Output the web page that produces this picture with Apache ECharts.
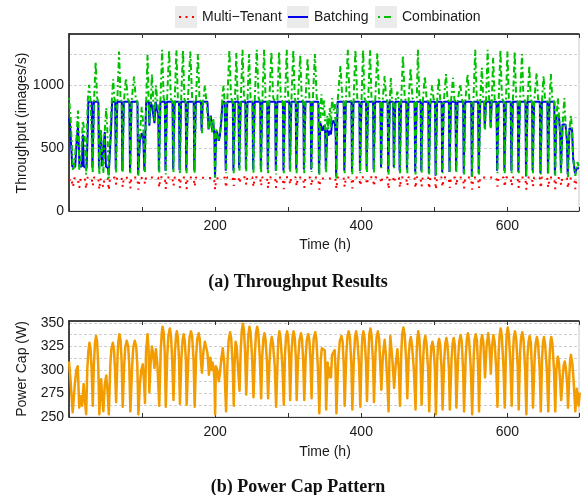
<!DOCTYPE html>
<html><head><meta charset="utf-8">
<script src="https://cdn.jsdelivr.net/npm/echarts@6/dist/echarts.min.js"></script>
<style>html,body{margin:0;padding:0;background:#fff}#c{width:582px;height:495px}</style>
</head><body><div id="c"></div>
<script>
// ---- tick labels ----
const xTickLabels = [200, 400, 600];
const throughputTickLabels = [0, 500, 1000];
const powerTickLabels = [250, 275, 300, 325, 350];

// ---- series (hour, value) ----
const multiTenant = [[0,240],[3,262],[5.5,190],[7,260],[12,262],[14,185],[16,258],[21.5,262],[23.5,175],[25,265],[31,265],[32.5,200],[34,266],[40,266],[41.5,170],[43,258],[45.5,260],[47,190],[48.5,258],[53,262],[54.5,165],[56,262],[63,266],[64.5,210],[66,268],[72,266],[73.5,190],[75,266],[82.5,265],[84,180],[85.5,268],[93.5,266],[95,170],[96.5,262],[102.5,264],[104,215],[105.5,268],[122,266],[123.5,185],[125,268],[131,268],[132.5,175],[134,266],[141.5,268],[143,200],[144.5,266],[150.3,268],[151.8,185],[153.3,268],[159.5,266],[161,175],[162.5,268],[170.5,266],[172,195],[173.5,266],[198.5,262],[200,170],[201.5,258],[213.5,266],[215,185],[216.5,268],[224,266],[225.5,200],[227,268],[232,266],[233.4,220],[235,268],[241,268],[242.6,210],[244,268],[251,268],[252.5,190],[254,268],[261.5,268],[263,200],[264.5,268],[271,266],[272.5,180],[274,268],[282,266],[283.5,185],[285,268],[292.5,266],[294,175],[295.5,268],[301.2,268],[302.7,210],[304.2,268],[310.1,268],[311.6,195],[313.1,268],[320.5,266],[322,185],[323.5,268],[330.5,266],[332,200],[333.5,268],[341,266],[342.6,170],[344,258],[364.5,260],[366,175],[367.5,266],[375.8,268],[377.3,190],[378.8,268],[386.3,266],[387.8,180],[389.3,268],[397.2,266],[398.7,200],[400.2,268],[406.3,268],[407.8,210],[409.3,268],[415.9,268],[417.4,195],[418.9,268],[426,266],[427.5,220],[429,268],[435.9,266],[437.4,175],[438.9,266],[443.5,266],[445,225],[446.5,268],[451.5,266],[453,185],[454.5,268],[461.5,266],[463,200],[464.5,268],[472.8,266],[474.3,180],[475.8,268],[481.1,268],[482.6,195],[484.1,268],[491.5,266],[493,175],[494.5,268],[500.7,266],[502.2,170],[503.7,266],[509.8,268],[511.3,190],[512.8,268],[519.7,266],[521.2,185],[522.7,268],[528.7,266],[530.2,200],[531.7,268],[539.2,266],[540.7,180],[542.2,268],[550.3,266],[551.8,170],[553.3,266],[559.7,268],[561.2,185],[562.7,268],[584.9,266],[586.4,195],[587.9,268],[594.9,266],[596.4,190],[597.9,268],[604.4,266],[605.9,200],[607.4,268],[614,266],[615.5,185],[617,268],[624.5,266],[626,170],[627.5,266],[633.5,268],[635,195],[636.5,268],[644.2,266],[645.7,180],[647.2,268],[654.5,266],[656,185],[657.5,268],[664,266],[665.5,175],[667,262],[672,262],[673.6,205],[675,260],[681.5,262],[683,180],[684.5,258],[691.5,260],[693,175],[694.5,250],[698,245]];

const batching = [[0,740],[1.5,680],[4.5,352],[8.5,352],[10.5,560],[12.3,675],[13.5,500],[14.3,355],[17.5,355],[19,610],[20.2,355],[24,340],[25.5,600],[26.5,870],[31.2,870],[32,345],[33.4,345],[34.2,870],[40.2,870],[41,340],[42.2,340],[43.6,640],[45.5,355],[47.5,355],[49,630],[50.5,355],[53.5,340],[54.3,285],[55.3,300],[57.5,640],[59,870],[63.2,870],[64,330],[65.3,330],[66.1,870],[72.2,870],[73,320],[74.3,320],[75.1,870],[82.7,870],[83.5,310],[84.8,310],[85.6,870],[93.7,870],[94.5,290],[95.8,290],[97,560],[99.5,620],[101.5,600],[103.2,320],[104.8,320],[105.6,870],[109,870],[110,680],[111.5,870],[113.5,840],[115.5,760],[117,700],[118.5,870],[120.5,870],[122.2,760],[123,320],[124.3,320],[125.1,870],[131.2,870],[132,320],[133.3,320],[134.1,870],[141.7,870],[142.5,330],[143.8,330],[144.6,870],[150.5,870],[151.3,325],[152.6,325],[153.4,870],[159.7,870],[160.5,320],[161.8,320],[162.6,870],[170.7,870],[171.5,320],[172.8,320],[173.6,870],[180.5,870],[181.5,640],[183,870],[189.5,870],[191,650],[192.5,710],[194,760],[196,640],[197.5,700],[199,600],[199.8,270],[200.8,270],[201.5,640],[203,620],[205,560],[206.5,600],[208.5,720],[210,870],[213,870],[214.5,320],[215.8,320],[216.6,870],[224.2,870],[225,320],[226.3,320],[227.1,870],[232,870],[232.8,340],[234.2,340],[235,870],[241.3,870],[242.1,335],[243.4,335],[244.2,870],[251.2,870],[252,330],[253.3,330],[254.1,870],[261.7,870],[262.5,330],[263.8,330],[264.6,870],[271.2,870],[272,330],[273.3,330],[274.1,870],[282.2,870],[283,320],[284.3,320],[285.1,870],[292.7,870],[293.5,320],[294.8,320],[295.6,870],[301.4,870],[302.2,330],[303.5,330],[304.3,870],[310.3,870],[311.1,330],[312.4,330],[313.2,870],[320.7,870],[321.5,330],[322.8,330],[323.6,870],[330.7,870],[331.5,330],[332.8,330],[333.6,870],[341.3,870],[342.1,300],[343.2,300],[344,700],[345.5,690],[347,640],[349,680],[350.5,640],[351.5,330],[352.5,330],[353.5,650],[355,600],[357,640],[358.5,610],[360,700],[362,720],[364,690],[365,600],[365.6,275],[366.8,275],[367.6,870],[376,870],[376.8,320],[378.1,320],[378.9,870],[386.5,870],[387.3,310],[388.6,310],[389.4,870],[397.4,870],[398.2,320],[399.5,320],[400.3,870],[406.5,870],[407.3,330],[408.6,330],[409.4,870],[416.1,870],[416.9,330],[418.2,330],[419,870],[426.2,870],[427,350],[428.3,350],[429.1,870],[436.1,870],[436.9,310],[438.2,310],[439,870],[443.7,870],[444.5,350],[445.8,350],[446.6,870],[451.7,870],[452.5,320],[453.8,320],[454.6,870],[461.7,870],[462.5,330],[463.8,330],[464.6,870],[473,870],[473.8,310],[475.1,310],[475.9,870],[481.3,870],[482.1,320],[483.4,320],[484.2,870],[491.7,870],[492.5,300],[493.8,300],[494.6,870],[500.9,870],[501.7,280],[503,280],[503.8,870],[510,870],[510.8,310],[512.1,310],[512.9,870],[519.9,870],[520.7,310],[522,310],[522.8,870],[528.9,870],[529.7,320],[531,320],[531.8,870],[539.4,870],[540.2,300],[541.5,300],[542.3,870],[550.5,870],[551.3,275],[552.6,275],[553.4,870],[559.9,870],[560.7,300],[562,300],[562.8,870],[568.3,870],[569,660],[569.9,660],[570.7,870],[576.3,870],[577,670],[577.9,670],[578.6,870],[585.1,870],[585.9,320],[587.2,320],[588,870],[595.1,870],[595.9,320],[597.2,320],[598,870],[604.6,870],[605.4,320],[606.7,320],[607.5,870],[614.2,870],[615,310],[616.3,310],[617.1,870],[624.7,870],[625.5,275],[626.8,275],[627.6,870],[633.7,870],[634.5,320],[635.8,320],[636.6,870],[644.4,870],[645.2,300],[646.5,300],[647.3,870],[654.7,870],[655.5,300],[656.8,300],[657.6,870],[664.2,870],[665,290],[666.3,290],[667.3,760],[670.5,760],[672.3,600],[673.2,320],[674.4,320],[675.5,690],[679.5,690],[681.5,560],[682.5,290],[683.8,290],[685,660],[688.5,650],[690,420],[692.5,300],[693.8,300],[695,340],[698,340]];

const combination = [[0,900],[2,760],[5.5,320],[7,350],[10,560],[12.3,800],[13,680],[14,330],[16,360],[19,720],[21,640],[23.5,290],[25.5,870],[27.5,1005],[29.5,880],[31,870],[32.5,300],[34.2,870],[36.5,1190],[38.5,900],[40,870],[41.5,290],[43.5,650],[44.5,640],[47,300],[49,640],[51,820],[52.5,640],[54.5,260],[56.5,640],[58.5,870],[60.5,1050],[62,900],[63.2,870],[64.5,300],[66.1,870],[68.5,1270],[70.5,900],[72.2,870],[73.5,310],[75.1,870],[78,1060],[80.5,890],[82.7,870],[84,300],[85.6,870],[89,1070],[91.5,890],[93.7,870],[95,280],[97,600],[99.5,830],[101.5,700],[104,310],[105.6,870],[107.5,1245],[109,880],[110,700],[112,870],[113.5,1090],[115.5,860],[117,720],[119,1000],[121,870],[122.2,800],[123.5,300],[125.1,870],[127.5,1284],[129.5,900],[131.2,870],[132.5,290],[134.1,870],[137,1280],[139.5,890],[141.7,870],[143,310],[144.6,870],[147,1280],[149,900],[150.5,870],[151.8,300],[153.4,870],[156,1280],[158,890],[159.7,870],[161,300],[162.6,870],[166,1270],[168.5,900],[170.7,870],[172,300],[173.6,870],[176.5,1250],[178.5,900],[180.5,870],[182,620],[183.5,870],[186,1000],[188,870],[189.5,880],[191.5,650],[193,760],[194.5,700],[196,620],[197.5,740],[199,600],[200,265],[201.5,650],[203,600],[205,560],[207,650],[208.5,760],[210,920],[211.5,1000],[213,870],[215,300],[216.6,870],[219.5,1284],[221.8,900],[224.2,870],[225.5,300],[227.1,870],[229,1260],[230.8,890],[232,870],[233.4,320],[235,870],[237.5,1284],[239.5,900],[241.3,870],[242.6,310],[244.2,870],[246.5,1250],[248.5,900],[251.2,870],[252.5,300],[254.1,870],[257,1284],[259.5,900],[261.7,870],[263,300],[264.6,870],[267,1284],[269,900],[271.2,870],[272.5,300],[274.1,870],[277,1270],[279.5,900],[282.2,870],[283.5,290],[285.1,870],[287.5,1270],[290,890],[292.7,870],[294,300],[295.6,870],[298,1284],[300,900],[301.4,870],[302.7,310],[304.3,870],[307,1284],[309,900],[310.3,870],[311.6,300],[313.2,870],[316.5,1240],[318.5,900],[320.7,870],[322,300],[323.6,870],[326.5,1220],[329,900],[330.7,870],[332,310],[333.6,870],[336.5,1250],[339,900],[341.3,870],[342.6,280],[344,800],[345.5,930],[347,760],[349,880],[350.5,700],[352,300],[353.5,760],[355,650],[357,820],[358.5,660],[360,900],[362,800],[364,850],[365,650],[366,260],[367.6,870],[371.5,1160],[374,900],[376,870],[377.3,300],[378.9,870],[381.5,1284],[384,900],[386.5,870],[387.8,290],[389.4,870],[392,1284],[394.5,900],[397.4,870],[398.7,300],[400.3,870],[402.5,1284],[404.5,900],[406.5,870],[407.8,310],[409.4,870],[412,1280],[414,900],[416.1,870],[417.4,300],[419,870],[422,1260],[424.5,900],[426.2,870],[427.5,340],[429.1,870],[432,1075],[434,900],[436.1,870],[437.4,290],[439,870],[440.5,1060],[442,890],[443.7,870],[445,340],[446.6,870],[449.5,950],[451.5,870],[453,300],[454.6,870],[457,1240],[459.5,900],[461.7,870],[463,300],[464.6,870],[467.5,1140],[470,900],[473,870],[474.3,290],[475.9,870],[477.5,1284],[479.5,900],[481.3,870],[482.6,300],[484.2,870],[487,1075],[489.5,890],[491.7,870],[493,290],[494.6,870],[497,1000],[499,890],[500.9,870],[502.2,280],[503.8,870],[506,1060],[508,890],[510,870],[511.3,300],[512.9,870],[516,1090],[518,890],[519.9,870],[521.2,300],[522.8,870],[525.5,1060],[527.5,890],[528.9,870],[530.2,300],[531.8,870],[535.5,1010],[537.5,890],[539.4,870],[540.7,290],[542.3,870],[545.5,1090],[548,890],[550.5,870],[551.8,270],[553.4,870],[556,1284],[558,900],[559.9,870],[561.2,290],[562.8,870],[565,1140],[567,890],[568.3,870],[569.4,650],[570.7,870],[573,1284],[575,890],[576.3,870],[577.3,660],[578.6,870],[580.5,1220],[582.5,890],[585.1,870],[586.4,300],[588,870],[590.5,1284],[592.5,900],[595.1,870],[596.4,300],[598,870],[600,1270],[602,900],[604.6,870],[605.9,300],[607.5,870],[610,1270],[612,900],[614.2,870],[615.5,300],[617.1,870],[620,1250],[622,900],[624.7,870],[626,270],[627.6,870],[630,1160],[632,890],[633.7,870],[635,300],[636.6,870],[640,1100],[642,890],[644.4,870],[645.7,290],[647.3,870],[649.5,1075],[651.5,890],[654.7,870],[656,290],[657.6,870],[659.5,1090],[661.5,890],[664.2,870],[665.5,280],[667.3,760],[669,900],[670.5,760],[672.3,600],[673.6,300],[675.5,690],[678,900],[679.5,690],[681.5,560],[683,270],[685,660],[687,760],[688.5,650],[690,420],[693,280],[694.5,330],[696,390],[698,340]];

const powerCap = [[0,309],[2,290],[5,255],[8,285],[10,300],[12,304],[14,260],[16,272],[18,262],[20,285],[21.5,270],[23.5,253],[25,300],[26.5,320],[28,329],[29.5,322],[31,300],[32.5,262],[34,305],[35.5,328],[37,336],[38.5,330],[40,305],[41.5,253],[43,280],[44,290],[45.5,270],[47,256],[49,285],[51,294],[53,275],[54.5,253],[56.5,305],[58,322],[60,329],[61.5,322],[63,300],[64.5,266],[66.5,315],[67.5,330],[69,338],[70.5,332],[72,310],[73.5,261],[75.5,305],[77,324],[79,331],[81,325],[82.5,305],[84,256],[86.5,305],[88,324],[90,331],[92,325],[93.5,305],[95,253],[97,285],[99,300],[101,306],[102.5,290],[104,265],[105.5,320],[107.5,338],[109,320],[110,276],[111.5,305],[113.5,325],[115,318],[117,302],[119,322],[121,305],[123.5,262],[125.5,320],[127,340],[128,346],[129.5,340],[131,318],[132.5,261],[134.5,315],[136,336],[138,344],[139.5,337],[141,315],[143,268],[145,320],[146.5,336],[147.5,341],[149,335],[150.5,312],[151.8,264],[154,315],[155.5,332],[157,338],[158.5,330],[160,310],[161,263],[163.5,315],[165,335],[167,341],[168.5,336],[170.5,310],[172,261],[174,315],[175.5,333],[177.5,339],[179,332],[181,305],[182,297],[184,320],[186,330],[188,332],[189.5,318],[191.5,295],[193.5,313],[195,300],[196.5,308],[198,300],[199,290],[200,253],[201,304],[203,300],[205,288],[206.5,296],[208.5,312],[210.5,323],[212.5,306],[215,256],[217,310],[218.5,332],[220.5,340],[222,333],[224,305],[225.5,262],[226.5,305],[228,330],[229.5,325],[231.5,300],[233.4,278],[235,320],[236.5,342],[238,349],[239.5,342],[241,318],[242.6,274],[244.5,320],[245.5,338],[247,346],[248.5,340],[250.5,315],[252.5,271],[254.5,318],[256,340],[257.6,346],[259,340],[261,315],[263,270],[264.5,315],[266,333],[267.5,339],[269,332],[271,308],[272.5,270],[274.5,310],[276,328],[277.5,335],[279,329],[281.5,305],[283.5,261],[285.5,310],[286.5,333],[288,341],[289.5,334],[292,305],[294,263],[295.5,315],[297,335],[298.6,341],[300,334],[301.5,310],[302.7,268],[304.5,318],[306,335],[307.5,341],[309,334],[310.5,312],[311.6,268],[313.5,310],[315.5,332],[317.6,339],[319,332],[320.5,310],[322,268],[324,315],[325.5,332],[327.5,338],[329,331],[330.5,310],[332,270],[333.5,315],[335,334],[337,340],[338.5,333],[340.5,305],[342.6,254],[344.5,310],[346,323],[348,322],[350,321],[351,300],[352,258],[354,308],[355,292],[357,302],[358.5,292],[360,316],[361.5,315],[363.6,321],[364.8,300],[366,254],[368.5,310],[370.5,330],[372.8,336],[374.5,330],[376,305],[377.3,262],[379.5,315],[381,335],[382.8,341],[384.5,334],[386.5,305],[387.8,258],[390,315],[391.5,335],[393,341],[394.5,334],[397,305],[398.7,261],[400.5,318],[401.5,335],[403,341],[404.5,334],[406.5,308],[407.8,267],[410,320],[411,338],[412.6,344],[414,337],[416,310],[417.4,266],[419.5,318],[421,335],[422.8,341],[424.5,333],[426,305],[427.5,279],[429.5,315],[432,332],[433.5,318],[435.5,290],[437.4,256],[438.5,310],[439.8,336],[441,325],[442.5,312],[445,281],[447,305],[449.5,322],[451.5,300],[453,262],[454.8,318],[456,338],[457.7,345],[459.3,338],[461.5,310],[463,270],[465,315],[466.5,330],[467.8,335],[469.5,326],[472,300],[474.3,258],[475.8,318],[476.8,334],[478,341],[479.5,334],[481.3,305],[482.6,263],[484.8,313],[486,330],[487.6,336],[489.3,328],[491.5,300],[493,256],[494.8,310],[496,325],[497.4,330],[499,324],[500.8,300],[502.2,253],[504,310],[505.2,328],[506.5,333],[508,327],[510,300],[511.3,258],[513.5,310],[515,328],[516.5,334],[518,327],[520,300],[521.2,258],[523.5,310],[525,328],[526.5,334],[528,327],[529.2,300],[530.2,260],[532.5,312],[534,330],[536,337],[537.5,330],[539.4,300],[540.7,256],[543,315],[544.5,333],[546,339],[547.5,332],[550,300],[551.8,253],[553.8,312],[555,332],[556.7,338],[558.3,331],[560,300],[561.2,256],[563,315],[564,332],[565.5,337],[567,330],[569.4,292],[571.5,325],[573.7,339],[575.5,325],[577.3,296],[579,325],[580.8,337],[582.5,330],[584.8,300],[586.4,261],[588,318],[589.3,337],[590.8,344],[592.3,337],[594.5,305],[596.4,260],[598,318],[599,338],[600.5,345],[602,338],[604.2,305],[605.9,262],[607.7,318],[608.8,335],[610.4,341],[612,334],[614,305],[615.5,258],[617.3,318],[618.7,334],[620.3,340],[622,333],[624.3,300],[626,253],[627.5,315],[629,330],[630.4,336],[632,329],[633.7,300],[635,260],[637.3,313],[638.8,329],[640.4,335],[642,328],[644.2,300],[645.7,256],[647.5,313],[648.7,329],[650,335],[651.5,328],[654,300],[656,256],[657.7,313],[658.8,329],[660,335],[661.6,328],[663.8,300],[665.5,256],[667,300],[669,314],[670.5,308],[672,290],[673.6,268],[675.5,290],[677,305],[678.5,309],[680,302],[681.8,285],[683,260],[684.8,295],[686,312],[687,316],[689,306],[690.5,290],[693,256],[695,280],[696.5,280],[697.5,262],[699,276]];

const SANS = "'Liberation Sans', Arial, sans-serif";
const SERIF = "'Liberation Serif', 'Times New Roman', serif";
const INK = '#1a1a1a';
const C_RED = '#ff0000', C_BLUE = '#0000ee', C_GREEN = '#00c000', C_ORANGE = '#f39c00';

const chart = echarts.init(document.getElementById('c'), null, {renderer: 'canvas'});

function xAxisPair(gridIndex) {
  return [{
    type: 'value', gridIndex, min: 0, max: 698, interval: 100, position: 'bottom',
    axisLine: {show: true, lineStyle: {color: '#333', width: 1.2}},
    axisTick: {show: true, inside: true, length: 4, lineStyle: {color: '#333'}},
    axisLabel: {color: INK, fontFamily: SANS, fontSize: 14, margin: 8,
      formatter: v => xTickLabels.includes(v) ? String(v) : ''},
    splitLine: {show: false}
  }, {
    type: 'value', gridIndex, min: 0, max: 698, interval: 100, position: 'top',
    axisLine: {show: true, lineStyle: {color: '#111', width: 1.5}},
    axisTick: {show: true, inside: true, length: 4, lineStyle: {color: '#333'}},
    axisLabel: {show: false}, splitLine: {show: false}
  }];
}

const gridLine = {show: true, lineStyle: {color: '#cfcfcf', width: 1, type: [3, 2]}};
const LEG_Y = 6, LEG_H = 22, LEG_CY = LEG_Y + LEG_H / 2;

chart.setOption({
  animation: false,
  backgroundColor: '#fff',
  grid: [
    {left: 69, right: 2, top: 34, height: 177, show: true, borderColor: '#c8c8c8', borderWidth: 1},
    {left: 69, right: 2, top: 321, height: 96, show: true, borderColor: '#c8c8c8', borderWidth: 1}
  ],
  xAxis: [...xAxisPair(0), ...xAxisPair(1)],
  yAxis: [{
    type: 'value', gridIndex: 0, min: 0, max: 1410, interval: 250,
    axisLine: {show: true, lineStyle: {color: '#111', width: 1.5}},
    axisTick: {show: false},
    axisLabel: {color: INK, fontFamily: SANS, fontSize: 14, margin: 5,
      formatter: v => throughputTickLabels.includes(v) ? String(v) : ''},
    splitLine: gridLine
  }, {
    type: 'value', gridIndex: 1, min: 250, max: 352, interval: 12.5,
    axisLine: {show: true, lineStyle: {color: '#111', width: 1.5}},
    axisTick: {show: false},
    axisLabel: {color: INK, fontFamily: SANS, fontSize: 14, margin: 5,
      formatter: v => powerTickLabels.includes(v) ? String(v) : ''},
    splitLine: gridLine
  }],
  legend: [
    {data: ['Multi−Tenant'], left: 175},
    {data: ['Batching'], left: 287},
    {data: ['Combination'], left: 375}
  ].map(l => Object.assign(l, {top: LEG_Y, itemWidth: 22, itemHeight: LEG_H, itemGap: 4, padding: 0,
      icon: 'rect', itemStyle: {opacity: 0}, lineStyle: {opacity: 0},
      textStyle: {color: INK, fontFamily: SANS, fontSize: 14}})),
  graphic: [
    {type: 'rect', shape: {x: 175, y: LEG_Y, width: 22, height: LEG_H}, style: {fill: '#ebebeb'}, z: -10},
    {type: 'rect', shape: {x: 287, y: LEG_Y, width: 22, height: LEG_H}, style: {fill: '#ebebeb'}, z: -10},
    {type: 'rect', shape: {x: 375, y: LEG_Y, width: 22, height: LEG_H}, style: {fill: '#ebebeb'}, z: -10},
    {type: 'line', shape: {x1: 179, y1: LEG_CY, x2: 195, y2: LEG_CY}, z: 10,
      style: {stroke: C_RED, lineWidth: 2, lineDash: [2, 4.5]}},
    {type: 'line', shape: {x1: 288, y1: LEG_CY, x2: 308, y2: LEG_CY}, z: 10,
      style: {stroke: C_BLUE, lineWidth: 2}},
    {type: 'line', shape: {x1: 378, y1: LEG_CY, x2: 395, y2: LEG_CY}, z: 10,
      style: {stroke: C_GREEN, lineWidth: 2, lineDash: [2, 4, 7, 20]}},
    {type: 'text', x: 22, y: 123, rotation: Math.PI / 2,
      style: {text: 'Throughput (images/s)', fill: INK, font: '14px ' + SANS, textAlign: 'center', textVerticalAlign: 'middle'}},
    {type: 'text', x: 22, y: 369, rotation: Math.PI / 2,
      style: {text: 'Power Cap (W)', fill: INK, font: '14px ' + SANS, textAlign: 'center', textVerticalAlign: 'middle'}},
    {type: 'text', x: 325, y: 245,
      style: {text: 'Time (h)', fill: INK, font: '14px ' + SANS, textAlign: 'center', textVerticalAlign: 'middle'}},
    {type: 'text', x: 325, y: 452,
      style: {text: 'Time (h)', fill: INK, font: '14px ' + SANS, textAlign: 'center', textVerticalAlign: 'middle'}},
    {type: 'text', x: 298, y: 282,
      style: {text: '(a) Throughput Results', fill: '#111', font: 'bold 18px ' + SERIF, textAlign: 'center', textVerticalAlign: 'middle'}},
    {type: 'text', x: 298, y: 487,
      style: {text: '(b) Power Cap Pattern', fill: '#111', font: 'bold 18px ' + SERIF, textAlign: 'center', textVerticalAlign: 'middle'}}
  ],
  series: [
    {name: 'Multi−Tenant', type: 'line', xAxisIndex: 0, yAxisIndex: 0, data: multiTenant,
      symbol: 'none', color: C_RED,
      lineStyle: {color: C_RED, width: 2, type: [2, 5]}},
    {name: 'Batching', type: 'line', xAxisIndex: 0, yAxisIndex: 0, data: batching,
      symbol: 'none', color: C_BLUE,
      lineStyle: {color: C_BLUE, width: 2}},
    {name: 'Combination', type: 'line', xAxisIndex: 0, yAxisIndex: 0, data: combination,
      symbol: 'none', color: C_GREEN,
      lineStyle: {color: C_GREEN, width: 2, type: [2, 3, 6, 3]}},
    {name: 'Power Cap', type: 'line', xAxisIndex: 2, yAxisIndex: 1, data: powerCap,
      symbol: 'none', color: C_ORANGE,
      lineStyle: {color: C_ORANGE, width: 2.5, join: 'round'}}
  ]
});
</script>
</body></html>
